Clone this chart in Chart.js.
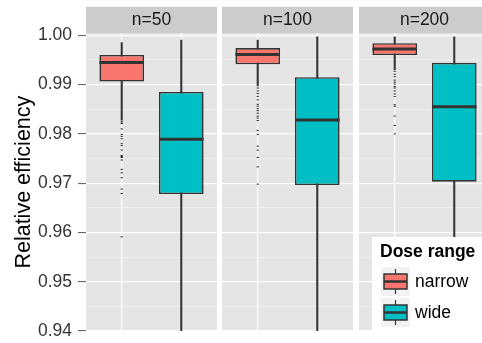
<!DOCTYPE html>
<html>
<head>
<meta charset="utf-8">
<script src="https://cdn.jsdelivr.net/npm/chart.js@4.4.1/dist/chart.umd.min.js"></script>
<style>
  html, body { margin: 0; padding: 0; background: #fff; overflow: hidden; }
  #wrap { position: relative; width: 482px; height: 343px; overflow: hidden; }
  .panel { position: absolute; top: 0; }
</style>
</head>
<body>
<div id="wrap">
  <canvas id="p0" class="panel" width="217" height="343" style="left:0px;width:217px;height:343px"></canvas>
  <canvas id="p1" class="panel" width="131" height="343" style="left:222px;width:131px;height:343px"></canvas>
  <canvas id="p2" class="panel" width="131" height="343" style="left:359px;width:131px;height:343px"></canvas>
</div>
<script>
// facets and groups
var panelLabels = ['n=50', 'n=100', 'n=200'];
var groups = ['narrow', 'wide'];
var groupColors = ['#F8766D', '#00BFC4'];

// y axis
var yTickLabels = ['0.94', '0.95', '0.96', '0.97', '0.98', '0.99', '1.00'];

// box stats per panel (n=50, n=100, n=200)
var narrowLow  = [0.9829, 0.9897, 0.9930];
var narrowQ1   = [0.9906, 0.9941, 0.9960];
var narrowMed  = [0.9945, 0.9961, 0.9972];
var narrowQ3   = [0.9960, 0.9974, 0.9984];
var narrowHigh = [0.9985, 0.9990, 0.9997];

var wideLow  = [0.925, 0.925, 0.925];   // runs off the bottom of the plot
var wideQ1   = [0.9678, 0.9696, 0.9703];
var wideMed  = [0.9789, 0.9828, 0.9855];
var wideQ3   = [0.9885, 0.9915, 0.9944];
var wideHigh = [0.9990, 0.9997, 0.9997];

// outliers of the narrow boxes
var narrowOutliers = [
  [0.9826, 0.9824, 0.9821, 0.9810, 0.9799, 0.9795, 0.9790, 0.9780, 0.9776, 0.9767,
   0.9756, 0.9754, 0.9752, 0.9747, 0.9728, 0.9721, 0.9711, 0.9688, 0.9679, 0.9591],
  [0.9893, 0.9887, 0.9882, 0.9876, 0.9869, 0.9860, 0.9856, 0.9851, 0.9847, 0.9842,
   0.9836, 0.9832, 0.9827, 0.9807, 0.9799, 0.9775, 0.9767, 0.9752, 0.9733, 0.9698],
  [0.9927, 0.9921, 0.9916, 0.9909, 0.9905, 0.9901, 0.9896, 0.9893, 0.9887, 0.9881,
   0.9876, 0.9859, 0.9856, 0.9836, 0.9817, 0.9800]
];

var FONT = "'Liberation Sans', Arial, Helvetica, sans-serif";
var DARK = '#333333';

// grey panel + strip on top
var facetPlugin = {
  id: 'facet',
  beforeDraw: function (chart, args, opts) {
    var a = chart.chartArea, c = chart.ctx;
    c.save();
    c.fillStyle = '#E5E5E5';
    c.fillRect(a.left, a.top, a.right - a.left, a.bottom - a.top);
    c.fillStyle = '#CCCCCC';
    c.fillRect(a.left, a.top - 26.5, a.right - a.left, 26.5);
    c.fillStyle = '#1A1A1A';
    c.font = '17.5px ' + FONT;
    c.textAlign = 'center';
    c.textBaseline = 'middle';
    c.fillText(opts.label, (a.left + a.right) / 2, a.top - 13);
    c.restore();
  }
};

// legend drawn in the last panel
function drawKey(c, x, y, color) {
  c.fillStyle = '#F2F2F2';
  c.fillRect(x, y, 29, 29);
  var cx = x + 14.5;
  c.strokeStyle = DARK;
  c.lineWidth = 1.2;
  c.beginPath();
  c.moveTo(cx, y + 2); c.lineTo(cx, y + 27);
  c.stroke();
  c.fillStyle = color;
  c.fillRect(x + 3, y + 7, 23, 15);
  c.lineWidth = 1.5;
  c.strokeRect(x + 3, y + 7, 23, 15);
  c.lineWidth = 2.5;
  c.beginPath();
  c.moveTo(x + 3, y + 14.5); c.lineTo(x + 26, y + 14.5);
  c.stroke();
}

var legendPlugin = {
  id: 'boxLegend',
  afterDraw: function (chart) {
    var c = chart.ctx;
    c.save();
    c.fillStyle = '#FFFFFF';
    c.fillRect(13, 237, 120, 95);
    c.fillStyle = '#000';
    c.font = 'bold 17.5px ' + FONT;
    c.textBaseline = 'middle';
    c.textAlign = 'left';
    c.fillText('Dose range', 21, 252);
    for (var i = 0; i < groups.length; i++) {
      var ky = 267 + i * 31;
      drawKey(c, 22, ky, groupColors[i]);
      c.fillStyle = '#000';
      c.font = '17.5px ' + FONT;
      c.textBaseline = 'middle';
      c.fillText(groups[i], 56, ky + 15);
    }
    c.restore();
  }
};

function yTicks() {
  var out = [];
  for (var i = 0; i < yTickLabels.length; i++) {
    var v = parseFloat(yTickLabels[i]);
    out.push({ value: v, major: true, label: yTickLabels[i] });
    if (i < yTickLabels.length - 1) {
      var nxt = parseFloat(yTickLabels[i + 1]);
      out.push({ value: (v + nxt) / 2, major: false, label: '' });
    }
  }
  return out;
}

function makePanel(id, p, withAxis, withLegend) {
  var plugins = [facetPlugin];
  if (withLegend) plugins.push(legendPlugin);

  new Chart(document.getElementById(id), {
    type: 'bar',
    data: {
      datasets: [
        {
          label: 'whisker',
          data: [
            { x: 1, y: [narrowLow[p], narrowHigh[p]] },
            { x: 2, y: [wideLow[p], wideHigh[p]] }
          ],
          backgroundColor: DARK,
          barThickness: 1.4,
          grouped: false,
          clip: 0,
          order: 3
        },
        {
          label: 'box',
          data: [
            { x: 1, y: [narrowQ1[p], narrowQ3[p]] },
            { x: 2, y: [wideQ1[p], wideQ3[p]] }
          ],
          backgroundColor: groupColors,
          borderColor: DARK,
          borderWidth: 1.6,
          borderSkipped: false,
          barPercentage: 0.75,
          categoryPercentage: 1,
          grouped: false,
          clip: 0,
          order: 2
        },
        {
          type: 'scatter',
          label: 'median',
          data: [
            { x: 1, y: narrowMed[p] },
            { x: 2, y: wideMed[p] }
          ],
          pointStyle: 'line',
          radius: 22.3,
          hoverRadius: 22.3,
          borderWidth: 3,
          borderColor: DARK,
          order: 1
        },
        {
          type: 'scatter',
          label: 'outliers',
          data: narrowOutliers[p].map(function (v) { return { x: 1, y: v }; }),
          pointStyle: 'line',
          radius: 1,
          borderWidth: 1,
          borderColor: '#111',
          order: 0
        }
      ]
    },
    options: {
      responsive: false,
      maintainAspectRatio: false,
      animation: false,
      devicePixelRatio: 1,
      layout: { autoPadding: false, padding: { top: 33.3, bottom: 12, left: 0, right: 0 } },
      plugins: {
        legend: { display: false },
        tooltip: { enabled: false },
        facet: { label: panelLabels[p] }
      },
      scales: {
        x: {
          type: 'linear',
          offset: false,
          min: 0.4,
          max: 2.6,
          afterBuildTicks: function (s) { s.ticks = [{ value: 1 }, { value: 2 }]; },
          afterFit: function (s) { s.height = 0; },
          ticks: { display: false },
          border: { display: false },
          grid: { color: '#FFFFFF', lineWidth: 1.2, drawTicks: false, offset: false }
        },
        y: {
          min: 0.94,
          max: 1.0004,
          afterBuildTicks: function (s) { s.ticks = yTicks(); },
          afterFit: function (s) {
            s.width = withAxis ? 86 : 0;
            s.paddingTop = 0;
            s.paddingBottom = 0;
          },
          border: { display: false },
          grid: {
            color: function (ctx) { return ctx.tick && ctx.tick.major ? '#FFFFFF' : '#F2F2F2'; },
            lineWidth: function (ctx) { return ctx.tick && ctx.tick.major ? 1.2 : 0.6; },
            drawTicks: withAxis,
            tickLength: 8,
            tickColor: function (ctx) { return ctx.tick && ctx.tick.major ? '#555555' : 'rgba(0,0,0,0)'; },
            tickWidth: 1
          },
          ticks: {
            display: withAxis,
            autoSkip: false,
            padding: 6,
            color: '#333333',
            font: { family: FONT, size: 17.5 },
            callback: function (v, i, t) { return t[i].label; }
          },
          title: {
            display: withAxis,
            text: 'Relative efficiency',
            color: '#000',
            font: { family: FONT, size: 21.5 },
            padding: { top: 11, bottom: 0 }
          }
        }
      }
    },
    plugins: plugins
  });
}

makePanel('p0', 0, true, false);
makePanel('p1', 1, false, false);
makePanel('p2', 2, false, true);
</script>
</body>
</html>
